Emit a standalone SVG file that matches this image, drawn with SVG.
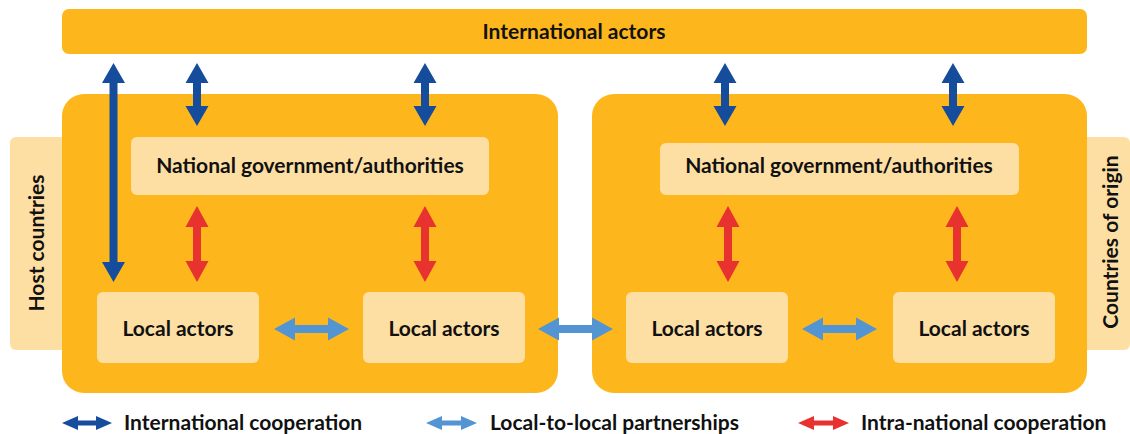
<svg xmlns="http://www.w3.org/2000/svg" width="1130" height="434" viewBox="0 0 1130 434">
<style>
.bg{fill:#FDB71D}
.tab{fill:#FEDFA3}
.box{fill:#FEDFA3}
.t{font-family:Lato,"Open Sans","Liberation Sans",sans-serif;font-weight:700;fill:#111;text-anchor:middle;font-size:21px}
.lg{font-family:Lato,"Open Sans","Liberation Sans",sans-serif;font-weight:700;fill:#111;font-size:21px}
.dk{fill:#164C9C}
.lb{fill:#5295D2}
.rd{fill:#E83230}
</style>
<rect x="0" y="0" width="1130" height="434" fill="#fff"/>
<g id="host-tab"><rect class="tab" x="10" y="137" width="70" height="213" rx="6"/><text class="t" transform="translate(44,243) rotate(-90)">Host countries</text></g>
<g id="origin-tab"><rect class="tab" x="1060" y="137" width="70" height="213" rx="6"/><text class="t" transform="translate(1118,242) rotate(-90)">Countries of origin</text></g>
<g id="international"><rect class="bg" x="62" y="9" width="1025" height="45" rx="7"/><text class="t" x="574" y="39">International actors</text></g>
<g id="host-panel"><rect class="bg" x="62" y="94" width="496" height="299" rx="22"/></g>
<g id="origin-panel"><rect class="bg" x="592" y="94" width="495" height="299" rx="22"/></g>
<g id="nat-host"><rect class="box" x="131" y="137" width="358" height="58" rx="6"/><text class="t" x="310" y="173">National government/authorities</text></g>
<g id="nat-origin"><rect class="box" x="660" y="143" width="359" height="52" rx="6"/><text class="t" x="839" y="173">National government/authorities</text></g>
<g id="local-h1"><rect class="box" x="97" y="292" width="162" height="71" rx="6"/><text class="t" x="178" y="336">Local actors</text></g>
<g id="local-h2"><rect class="box" x="363" y="292" width="162" height="71" rx="6"/><text class="t" x="444" y="336">Local actors</text></g>
<g id="local-o1"><rect class="box" x="626" y="292" width="162" height="71" rx="6"/><text class="t" x="707" y="336">Local actors</text></g>
<g id="local-o2"><rect class="box" x="893" y="292" width="162" height="71" rx="6"/><text class="t" x="974" y="336">Local actors</text></g>
<g id="connectors">
<path class="dk" d="M113.5,63 L125,83 L117.5,83 L117.5,262 L125,262 L113.5,282 L102,262 L109.5,262 L109.5,83 L102,83 Z"/>
<path class="dk" d="M197,63 L208.5,83 L201,83 L201,106 L208.5,106 L197,126 L185.5,106 L193,106 L193,83 L185.5,83 Z"/>
<path class="dk" d="M425,63 L436.5,83 L429,83 L429,106 L436.5,106 L425,126 L413.5,106 L421,106 L421,83 L413.5,83 Z"/>
<path class="dk" d="M725,63 L736.5,83 L729,83 L729,106 L736.5,106 L725,126 L713.5,106 L721,106 L721,83 L713.5,83 Z"/>
<path class="dk" d="M953,63 L964.5,83 L957,83 L957,106 L964.5,106 L953,126 L941.5,106 L949,106 L949,83 L941.5,83 Z"/>
<path class="rd" d="M197,206 L208.5,227 L201,227 L201,261 L208.5,261 L197,282 L185.5,261 L193,261 L193,227 L185.5,227 Z"/>
<path class="rd" d="M425,206 L436.5,227 L429,227 L429,261 L436.5,261 L425,282 L413.5,261 L421,261 L421,227 L413.5,227 Z"/>
<path class="rd" d="M728,206 L739.5,227 L732,227 L732,261 L739.5,261 L728,282 L716.5,261 L724,261 L724,227 L716.5,227 Z"/>
<path class="rd" d="M957,206 L968.5,227 L961,227 L961,261 L968.5,261 L957,282 L945.5,261 L953,261 L953,227 L945.5,227 Z"/>
<path class="lb" d="M274,329 L295,317.5 L295,325 L328,325 L328,317.5 L349,329 L328,340.5 L328,333 L295,333 L295,340.5 Z"/>
<path class="lb" d="M538,329 L559,317.5 L559,325 L592,325 L592,317.5 L613,329 L592,340.5 L592,333 L559,333 L559,340.5 Z"/>
<path class="lb" d="M802,329 L823,317.5 L823,325 L856,325 L856,317.5 L877,329 L856,340.5 L856,333 L823,333 L823,340.5 Z"/>
</g>
<g id="legend">
<path class="dk" d="M62,423 L78,416 L78,420.5 L96,420.5 L96,416 L112,423 L96,430 L96,425.5 L78,425.5 L78,430 Z"/>
<text class="lg" x="124" y="430">International cooperation</text>
<path class="lb" d="M426,423 L442,416 L442,420.5 L461,420.5 L461,416 L477,423 L461,430 L461,425.5 L442,425.5 L442,430 Z"/>
<text class="lg" x="490" y="430">Local-to-local partnerships</text>
<path class="rd" d="M798,423 L814,416 L814,420.5 L833,420.5 L833,416 L849,423 L833,430 L833,425.5 L814,425.5 L814,430 Z"/>
<text class="lg" x="861" y="430">Intra-national cooperation</text>
</g>
</svg>
